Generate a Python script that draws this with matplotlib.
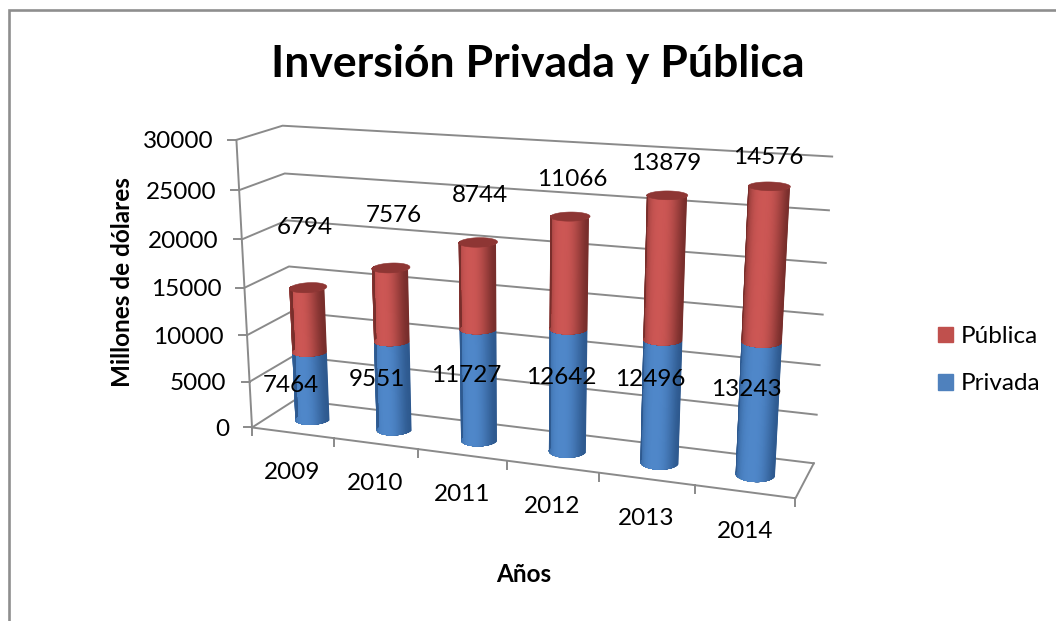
import numpy as np
import matplotlib
matplotlib.use("Agg")
import matplotlib.pyplot as plt
from matplotlib.collections import PolyCollection
from matplotlib.patches import Patch, Polygon

plt.rcParams['font.family'] = ['Lato', 'DejaVu Sans']

years = ['2009', '2010', '2011', '2012', '2013', '2014']
privada = [7464, 9551, 11727, 12642, 12496, 13243]
publica = [6794, 7576, 8744, 11066, 13879, 14576]
y_ticks = [0, 5000, 10000, 15000, 20000, 25000, 30000]
y_max = 30000

# label places in the picture, Excel puts them in odd spots
priv_label_xy = [(291, 383), (377, 377), (466, 374), (561, 376), (650, 377), (746, 388)]
publ_label_xy = [(305, 226), (394, 213), (480, 194), (572, 177), (666, 162), (768, 156)]

# camera fit: box corners (u, v, w) -> pixels, u along years, v up, w into the page
box_pts = [(0, 0, 0), (0, 1, 0), (1, 0, 0), (1, 1, 0),
           (0, 0, 1), (0, 1, 1), (1, 0, 1), (1, 1, 1),
           (0, .5, 0), (0, .5, 1), (1, .5, 1), (1 / 6, 0, 0), (5 / 6, 0, 0)]
pix_pts = [(252, 427), (236, 139), (796, 499), (815, 178),
           (295, 402), (282, 126), (814, 463), (831, 155),
           (245, 287), (290, 267), (823, 313), (333, 437), (694, 485)]

A = []
b = []
for (u, v, w), (px, py) in zip(box_pts, pix_pts):
    A.append([u, v, w, 1, 0, 0, 0, 0, -px * u, -px * v, -px * w])
    A.append([0, 0, 0, 0, u, v, w, 1, -py * u, -py * v, -py * w])
    b += [px, py]
cam = np.linalg.lstsq(np.array(A, float), np.array(b, float), rcond=None)[0]
cam = np.append(cam, 1).reshape(3, 4)


def project(u, v, w):
    u, v, w = np.broadcast_arrays(u, v, w)
    p = cam @ np.stack([u, v, w, np.ones_like(u, dtype=float)])
    return p[0] / p[2], p[1] / p[2]


fig = plt.figure(figsize=(10.56, 6.21), dpi=100)
ax = fig.add_axes([0, 0, 1, 1])
ax.set_xlim(0, 1056)
ax.set_ylim(621, 0)
ax.axis('off')

# chart border, only left and top show
ax.plot([8.5, 8.5, 1056], [621, 9.5, 9.5], color='#8E8E8E', lw=1.9, solid_joinstyle='miter')

grid_col = '#8A8A8A'
grid_lw = 1.4
for t in y_ticks:
    v = t / y_max
    # front left -> back left -> back right
    x, y = project(np.array([0, 0, 1]), v, np.array([0, 1, 1]))
    ax.plot(x, y, color=grid_col, lw=grid_lw, zorder=1)
    ax.plot([x[0] - 8, x[0]], [y[0], y[0]], color=grid_col, lw=grid_lw, zorder=1)
    ax.text(x[0] - 23, y[0], str(t), ha='right', va='center_baseline', fontsize=17.5, color='black')

# left edge and floor outline
x, y = project(0, np.array([0, 1]), 0)
ax.plot(x, y, color=grid_col, lw=grid_lw, zorder=1)
x, y = project(np.array([0, 1, 1]), 0, np.array([0, 0, 1]))
ax.plot(x, y, color=grid_col, lw=grid_lw, zorder=1)

for k in range(len(years) + 1):
    x, y = project(k / len(years), 0, 0)
    ax.plot([x, x], [y, y + 8], color=grid_col, lw=grid_lw, zorder=1)

for i, yr in enumerate(years):
    x, y = project((i + .5) / len(years), 0, 0)
    ax.text(x, y + 38, yr, ha='center', va='center_baseline', fontsize=17.5, color='black')

bar_ru = 0.033
bar_rw = 0.22
bar_w = 0.5
angles = np.linspace(0, np.pi, 61)


def shade(t, dark, light):
    c = np.cos(t)
    f = 1 - np.abs(c) ** 2.6
    # right side falls off a bit harder
    if c > 0:
        f = f ** 1.3
    return np.array(dark) * (1 - f) + np.array(light) * f


def cylinder(u0, lo, hi, dark, light, cap=None):
    us = u0 + bar_ru * np.cos(angles)
    ws = bar_w - bar_rw * np.sin(angles)
    x0, y0 = project(us, lo / y_max, ws)
    x1, y1 = project(us, hi / y_max, ws)
    polys = []
    cols = []
    # each strip runs to the far side and gets painted over, so no seams
    for j in range(len(angles) - 1):
        bottom = np.column_stack([x0[j:], y0[j:]])
        top = np.column_stack([x1[j:], y1[j:]])[::-1]
        polys.append(np.vstack([bottom, top]))
        cols.append(shade((angles[j] + angles[j + 1]) / 2, dark, light))
    ax.add_collection(PolyCollection(polys, facecolors=cols, edgecolors='none', zorder=3))
    if cap is not None:
        ring = np.linspace(0, 2 * np.pi, 60)
        cx, cy = project(u0 + bar_ru * np.cos(ring), hi / y_max, bar_w - bar_rw * np.sin(ring))
        ax.add_patch(Polygon(np.column_stack([cx, cy]), closed=True, fc=cap, ec=cap, lw=0.4, zorder=4))


blue_dark, blue_light = (0.18, 0.35, 0.56), (0.31, 0.53, 0.79)
red_dark, red_light = (0.47, 0.18, 0.17), (0.80, 0.34, 0.33)

for i in range(len(years)):
    u0 = (i + .5) / len(years)
    cylinder(u0, 0, privada[i], blue_dark, blue_light)
    cylinder(u0, privada[i], privada[i] + publica[i], red_dark, red_light, cap='#8E3634')

for vals, places in ((privada, priv_label_xy), (publica, publ_label_xy)):
    for val, (x, y) in zip(vals, places):
        ax.text(x, y, str(val), ha='center', va='center_baseline', fontsize=17.5, color='black', zorder=6)

ax.text(538, 60, 'Inversión Privada y Pública', ha='center', va='center_baseline',
        fontsize=32, fontweight='bold', color='black')
ax.text(122, 282, 'Millones de dólares', rotation=90, ha='center', va='center',
        fontsize=17.5, fontweight='bold', color='black')
ax.text(524, 573, 'Años', ha='center', va='center_baseline', fontsize=17.5, fontweight='bold', color='black')

handles = [Patch(color='#C0504D', label='Pública'), Patch(color='#4F81BD', label='Privada')]
ax.legend(handles=handles, loc='upper left', bbox_to_anchor=(938, 326), bbox_transform=ax.transData,
          frameon=False, fontsize=17.5, handlelength=0.62, handleheight=0.62, handletextpad=0.3,
          labelspacing=1.08, borderpad=0, borderaxespad=0)

fig.savefig('out.png', dpi=100)
